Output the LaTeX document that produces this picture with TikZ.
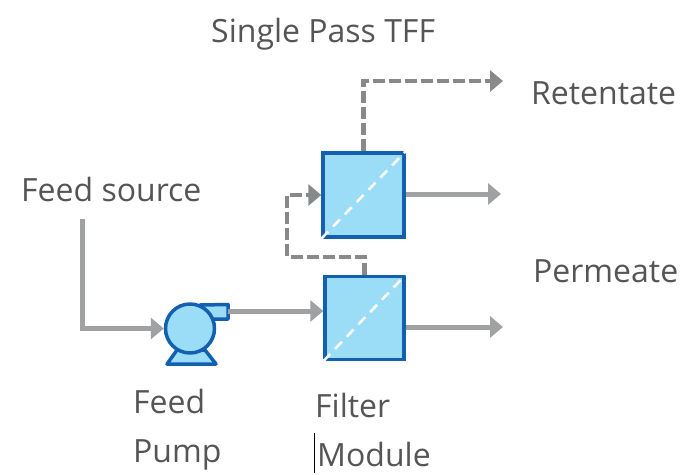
\documentclass[tikz,border=0pt]{standalone}
\usepackage{fontspec}
\setmainfont{Open Sans}
\usetikzlibrary{arrows.meta}
\definecolor{fillblue}{HTML}{9BDCF7}
\definecolor{edgeblue}{HTML}{135FB0}
\definecolor{solidgray}{HTML}{A0A1A3}
\definecolor{dashgray}{HTML}{87898B}
\definecolor{txt}{HTML}{555555}
\tikzset{x=1pt,y=-1pt,
 lbl/.style={inner sep=0pt,text=txt,font=\fontsize{32}{32}\selectfont,anchor=base west},
 filterbox/.style={draw=edgeblue,fill=fillblue,line width=3.5pt,inner sep=0pt},
 flow/.style={draw=solidgray,line width=5pt,-{Triangle[length=13pt,width=21pt]}},
 flowdash/.style={draw=dashgray,line width=4.5pt,dash pattern=on 12pt off 4pt,-{Triangle[length=13pt,width=21pt]}},
 membrane/.style={draw=white,line width=2.6pt,dash pattern=on 10pt off 7pt},
 pumpshape/.style={draw=edgeblue,fill=fillblue,line width=3.5pt,line join=round}}
\begin{document}
\begin{tikzpicture}
\useasboundingbox (0,0) rectangle (692,474);
% filter modules
\node[filterbox,minimum width=81pt,minimum height=84pt] (top) at (363.5,195) {};
\node[filterbox,minimum width=79pt,minimum height=83pt] (bot) at (364.5,318) {};
\draw[membrane] (top.south west) -- (top.north east);
\draw[membrane] (bot.south west) -- (bot.north east);
% pump
\draw[pumpshape] (177,350) -- (167,364) -- (216,364) -- (205,350) -- cycle;
\draw[pumpshape] (200,305) -- (228,304.5) -- (228,319) -- (208,319) -- cycle;
\node[pumpshape,circle,minimum size=49pt,inner sep=0pt] (pump) at (190,328.5) {};
% free ends
\coordinate (outlet) at (228,311);
\coordinate (feedstart) at (82,219);
\coordinate (retend) at (503,81);
\coordinate (perm1) at (501,194);
\coordinate (perm2) at (503,327);
% connectors
\draw[flow] (feedstart) |- (pump.west);
\draw[flow] (outlet) -- (bot.west |- outlet);
\draw[flow] (top.east |- perm1) -- (perm1);
\draw[flow] (bot.east |- perm2) -- (perm2);
\draw[flowdash] (top.north) |- (retend);
\draw[flowdash] (bot.north) -- ++(0,-18) -| (287,195) -- (top.west |- 0,195);
% labels
\node[lbl] (title) at (211,42) {Single Pass TFF};
\node[lbl] (ret) at (531,104) {Retentate};
\node[lbl] (per) at (533,282) {Permeate};
\node[lbl] (src) at (21,201) {Feed source};
\node[lbl] (fp1) at (133,413) {Feed};
\node[lbl] (fp2) at (133,462) {Pump};
\node[lbl] (fm1) at (315,417) {Filter};
\node[lbl] (fm2) at (317,466) {Module};
\draw[black,line width=1pt] (314.5,433) -- (314.5,473);
\end{tikzpicture}
\end{document}
